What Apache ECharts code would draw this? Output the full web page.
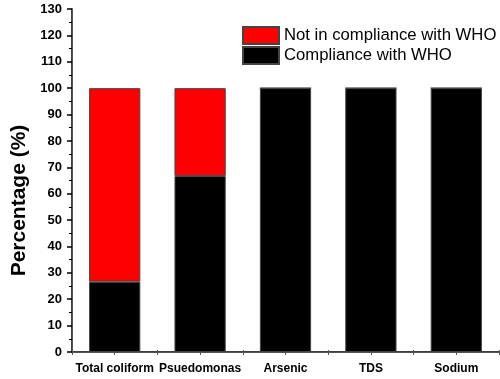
<!DOCTYPE html>
<html>
<head>
<meta charset="utf-8">
<script src="https://cdn.jsdelivr.net/npm/echarts@6/dist/echarts.min.js"></script>
<style>
  html, body { margin: 0; padding: 0; background: #fff; }
  #chart { width: 500px; height: 379px; }
</style>
</head>
<body>
<div id="chart"></div>
<script>
// Share of samples meeting / failing WHO guideline values per parameter
const categories = ['Total coliform', 'Psuedomonas', 'Arsenic', 'TDS', 'Sodium'];
const compliance = [26.67, 66.67, 100, 100, 100];
const nonCompliance = [73.33, 33.33, 0, 0, 0];
const yTicks = { min: 0, max: 130, step: 10 };

const FONT = 'Liberation Sans, Arial, sans-serif';
const chart = echarts.init(document.getElementById('chart'), null, { renderer: 'canvas' });

chart.setOption({
  animation: false,
  backgroundColor: '#fff',
  grid: { left: 72, right: 1, top: 9, bottom: 27, containLabel: false },
  legend: {
    orient: 'vertical',
    left: 242,
    top: 26,
    itemWidth: 36,
    itemHeight: 17,
    itemGap: 1,
    padding: 0,
    icon: 'rect',
    textStyle: { fontFamily: FONT, fontSize: 16.7, color: '#000' },
    data: ['Not in compliance with WHO', 'Compliance with WHO']
  },
  xAxis: [
    {
      type: 'category',
      data: categories,
      position: 'bottom',
      axisLine: { lineStyle: { color: '#000', width: 1.5 } },
      axisTick: { alignWithLabel: true, length: 6, lineStyle: { color: '#000', width: 1.5 } },
      axisLabel: { fontFamily: FONT, fontWeight: 'bold', fontSize: 12, color: '#000', margin: 11, interval: 0 },
      splitLine: { show: false }
    },
    {
      // frame top edge with inward half-category ticks
      type: 'value',
      position: 'top',
      min: 0, max: 10, interval: 1,
      axisLine: { show: true, lineStyle: { color: '#555', width: 1 } },
      axisTick: { show: true, inside: true, length: 3, lineStyle: { color: '#555' } },
      axisLabel: { show: false },
      splitLine: { show: false }
    },
    {
      // small boundary ticks on the bottom edge
      type: 'value',
      position: 'bottom',
      min: 0, max: 5, interval: 1,
      axisLine: { show: false },
      axisTick: { show: true, inside: true, length: 2, lineStyle: { color: '#555' } },
      axisLabel: { show: false },
      splitLine: { show: false }
    }
  ],
  yAxis: [
    {
      type: 'value',
      min: yTicks.min,
      max: yTicks.max,
      interval: yTicks.step,
      name: 'Percentage (%)',
      nameLocation: 'middle',
      nameGap: 33,
      nameTextStyle: { fontFamily: FONT, fontWeight: 'bold', fontSize: 21, color: '#000', padding: [0, 40, 0, 0] },
      axisLine: { show: true, lineStyle: { color: '#000', width: 1.5 } },
      axisTick: { show: true, length: 5, lineStyle: { color: '#000', width: 1.5 } },
      minorTick: { show: true, splitNumber: 2, length: 3, lineStyle: { color: '#000', width: 1 } },
      axisLabel: { fontFamily: FONT, fontWeight: 'bold', fontSize: 13, color: '#000', margin: 10 },
      splitLine: { show: false }
    },
    {
      // right edge of the frame
      type: 'value',
      position: 'right',
      min: yTicks.min,
      max: yTicks.max,
      interval: yTicks.step,
      axisLine: { show: true, lineStyle: { color: '#555', width: 1 } },
      axisTick: { show: false },
      axisLabel: { show: false },
      splitLine: { show: false }
    }
  ],
  series: [
    {
      name: 'Compliance with WHO',
      type: 'bar',
      stack: 'total',
      barWidth: '60%',
      data: compliance,
      itemStyle: { color: '#000000', borderColor: '#444', borderWidth: 1 }
    },
    {
      name: 'Not in compliance with WHO',
      type: 'bar',
      stack: 'total',
      barWidth: '60%',
      data: nonCompliance,
      itemStyle: { color: '#ff0000', borderColor: '#444', borderWidth: 1 }
    }
  ]
});
</script>
</body>
</html>
